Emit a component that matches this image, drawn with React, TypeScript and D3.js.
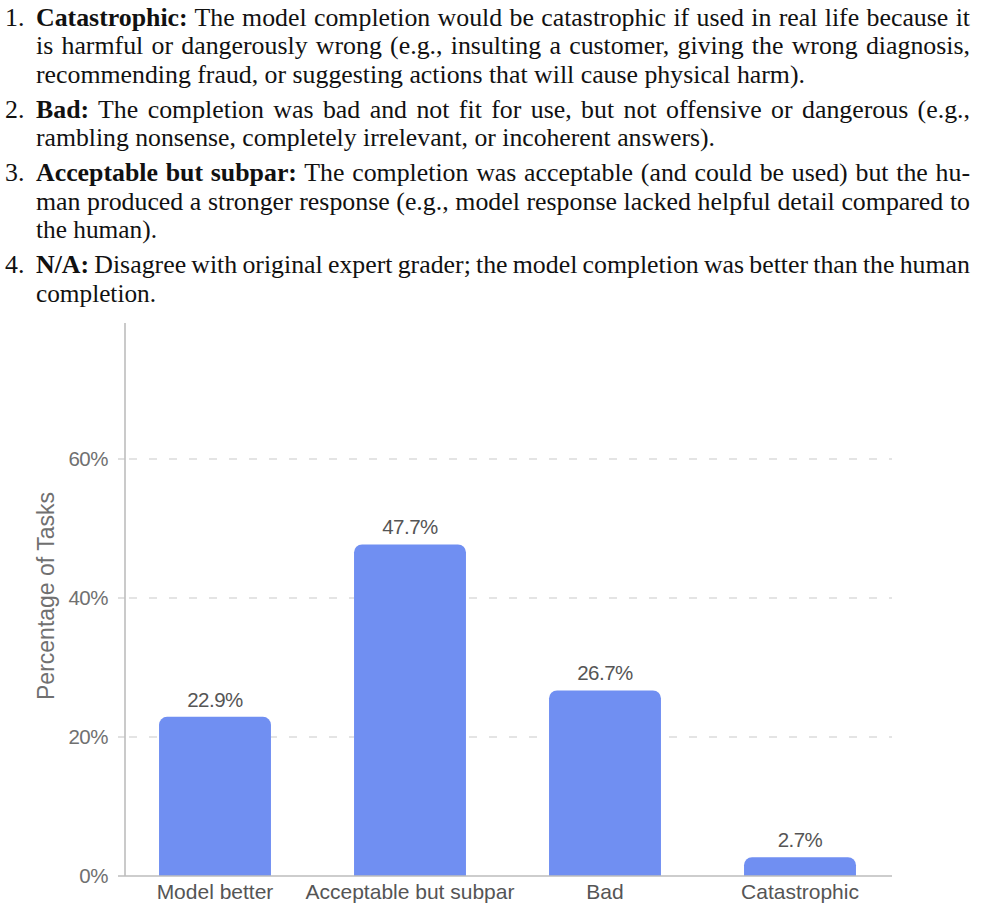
import React, { useLayoutEffect, useRef, useState } from "react";
import * as d3 from "d3";

const categories = ["Model better", "Acceptable but subpar", "Bad", "Catastrophic"];
const values = [22.9, 47.7, 26.7, 2.7];
const yTicks = [0, 20, 40, 60];
const yTitle = "Percentage of Tasks";

const itemNumbers = ["1.", "2.", "3.", "4."];
const itemLabels = ["Catastrophic:", "Bad:", "Acceptable but subpar:", "N/A:"];
const itemLines = [
  [
    " The model completion would be catastrophic if used in real life because it",
    "is harmful or dangerously wrong (e.g., insulting a customer, giving the wrong diagnosis,",
    "recommending fraud, or suggesting actions that will cause physical harm).",
  ],
  [
    " The completion was bad and not fit for use, but not offensive or dangerous (e.g.,",
    "rambling nonsense, completely irrelevant, or incoherent answers).",
  ],
  [
    " The completion was acceptable (and could be used) but the hu-",
    "man produced a stronger response (e.g., model response lacked helpful detail compared to",
    "the human).",
  ],
  [
    " Disagree with original expert grader; the model completion was better than the human",
    "completion.",
  ],
];
// right edge of each line (justified lines run to the full measure)
const itemLineEnds = [
  [970, 970, 805],
  [970, 715],
  [970, 970, 157],
  [970, 156],
];

const W = 988;
const H = 907;

export default function App() {
  const x = d3.scaleBand<string>().domain(categories).range([117.5, 897.5]).paddingInner(0.426).paddingOuter(0.213);
  const y = d3.scaleLinear().domain([0, 80]).range([876, 320]);
  const plotLeft = 125;
  const plotRight = 892;
  const barColor = "#708ff2";
  const r = 8;

  const textLeft = 36;
  const lineH = 28.7;
  const itemGap = 6;
  const fs = 24.5;
  const sx = 1.055;
  const serif = "'Liberation Serif', 'Times New Roman', serif";
  const sans = "'Liberation Sans', Arial, Helvetica, sans-serif";

  const refs = useRef<Record<string, SVGTextElement | null>>({});
  const [spacing, setSpacing] = useState<Record<string, number>>({});

  useLayoutEffect(() => {
    const next: Record<string, number> = {};
    itemLines.forEach((lines, i) => {
      lines.forEach((ln, j) => {
        const end = itemLineEnds[i][j];
        if (end < 960) return;
        const el = refs.current[`${i}-${j}`];
        if (!el) return;
        const natural = el.getComputedTextLength();
        const full = (j === 0 ? itemLabels[i] : "") + ln;
        const spaces = (full.match(/ /g) || []).length;
        next[`${i}-${j}`] = spaces ? ((end - textLeft) / sx - natural) / spaces : 0;
      });
    });
    setSpacing(next);
  }, []);

  let baseline = 25.5;
  const paragraph: React.ReactNode[] = [];
  itemLines.forEach((lines, i) => {
    lines.forEach((ln, j) => {
      const end = itemLineEnds[i][j];
      const full = end >= 960;
      const key = `${i}-${j}`;
      const ws = spacing[key];
      paragraph.push(
        <text
          key={`t-${key}`}
          ref={(el) => {
            refs.current[key] = el;
          }}
          transform={`translate(${textLeft},${baseline}) scale(${sx},1)`}
          fontFamily={serif}
          fontSize={fs}
          fill="#111"
          textLength={full ? undefined : (end - textLeft) / sx}
          lengthAdjust={full ? undefined : "spacingAndGlyphs"}
          style={{ whiteSpace: "pre", wordSpacing: full && ws !== undefined ? `${ws}px` : undefined }}
        >
          {j === 0 ? <tspan fontWeight="bold">{itemLabels[i]}</tspan> : null}
          {ln}
        </text>
      );
      if (j === 0) {
        paragraph.push(
          <text key={`n-${i}`} transform={`translate(5,${baseline}) scale(${sx},1)`} fontFamily={serif} fontSize={fs} fill="#111">
            {itemNumbers[i]}
          </text>
        );
      }
      baseline += lineH;
    });
    baseline += itemGap;
  });

  const barPath = (x0: number, w: number, yTop: number, yBot: number) => {
    const rr = Math.min(r, yBot - yTop, w / 2);
    const p = d3.path();
    p.moveTo(x0, yBot);
    p.lineTo(x0, yTop + rr);
    p.arcTo(x0, yTop, x0 + rr, yTop, rr);
    p.lineTo(x0 + w - rr, yTop);
    p.arcTo(x0 + w, yTop, x0 + w, yTop + rr, rr);
    p.lineTo(x0 + w, yBot);
    p.closePath();
    return p.toString();
  };

  return (
    <svg width={W} height={H} style={{ position: "absolute", left: 0, top: 0, background: "#fff" }}>
      <rect x={0} y={0} width={W} height={H} fill="#fff" />
      {paragraph}

      {yTicks.filter((t) => t > 0).map((t) => (
        <g key={`g-${t}`}>
          <line x1={plotLeft} x2={plotRight} y1={y(t)} y2={y(t)} stroke="#dcdcdc" strokeWidth={1.3} strokeDasharray="8,12" strokeDashoffset={-4} />
          <line x1={118} x2={plotLeft} y1={y(t)} y2={y(t)} stroke="#cfcfcf" strokeWidth={1.3} />
        </g>
      ))}
      <line x1={118} x2={plotLeft} y1={y(0)} y2={y(0)} stroke="#bdbdbd" strokeWidth={1.5} />

      {yTicks.map((t) => (
        <text key={`yl-${t}`} x={108} y={y(t) + 7} textAnchor="end" fontFamily={sans} fontSize={20.5} fill="#707070" letterSpacing={-0.5}>
          {`${t}%`}
        </text>
      ))}

      <text transform={`translate(54,596) rotate(-90)`} textAnchor="middle" fontFamily={sans} fontSize={23} fill="#707070">
        {yTitle}
      </text>

      {categories.map((c, i) => {
        const x0 = x(c)!;
        const w = x.bandwidth();
        return (
          <g key={`b-${c}`}>
            <path d={barPath(x0, w, y(values[i]), y(0))} fill={barColor} />
            <text x={x0 + w / 2} y={y(values[i]) - 10} textAnchor="middle" fontFamily={sans} fontSize={20.5} fill="#555" letterSpacing={-0.5}>
              {`${values[i].toFixed(1)}%`}
            </text>
            <text x={x0 + w / 2} y={899} textAnchor="middle" fontFamily={sans} fontSize={21} fill="#555">
              {c}
            </text>
          </g>
        );
      })}

      <line x1={plotLeft} x2={plotLeft} y1={323} y2={y(0)} stroke="#bdbdbd" strokeWidth={1.6} />
      <line x1={plotLeft} x2={plotRight} y1={y(0)} y2={y(0)} stroke="#bdbdbd" strokeWidth={1.6} />
    </svg>
  );
}
